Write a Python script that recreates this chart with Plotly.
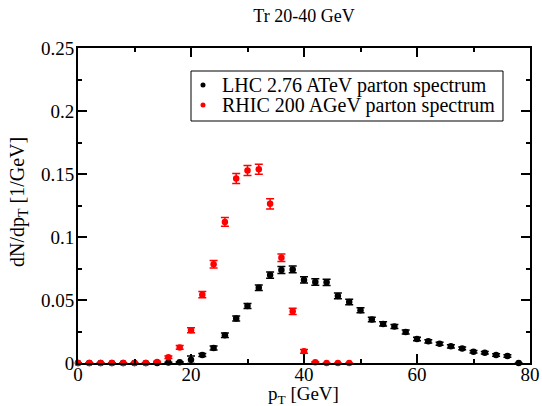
import plotly.graph_objects as go

# transverse momentum bins [GeV]
pt = [0, 2, 4, 6, 8, 10, 12, 14, 16, 18, 20, 22, 24, 26, 28, 30, 32, 34, 36, 38,
      40, 42, 44, 46, 48, 50, 52, 54, 56, 58, 60, 62, 64, 66, 68, 70, 72, 74, 76, 78]

# LHC 2.76 ATeV parton spectrum dN/dpT [1/GeV]
lhc_y = [0, 0, 0, 0, 0, 0, 0, 0, 0.0003, 0.0005, 0.0026, 0.0063, 0.0119, 0.022,
         0.0354, 0.0452, 0.0598, 0.0698, 0.0738, 0.0743, 0.0659, 0.0643, 0.064,
         0.0532, 0.0484, 0.0418, 0.0345, 0.031, 0.029, 0.0246, 0.019, 0.0172,
         0.0153, 0.0132, 0.0116, 0.009, 0.0082, 0.0063, 0.0056, 0.0]
lhc_err = [0, 0, 0, 0, 0, 0, 0, 0, 0.0003, 0.0005, 0.003, 0.0012, 0.0015, 0.0018,
           0.002, 0.002, 0.0022, 0.0025, 0.0027, 0.0027, 0.0025, 0.0025, 0.0025,
           0.0023, 0.0022, 0.002, 0.0018, 0.0017, 0.0016, 0.0015, 0.0014, 0.0013,
           0.0012, 0.0012, 0.0011, 0.001, 0.001, 0.001, 0.001, 0.0]

# RHIC 200 AGeV parton spectrum dN/dpT [1/GeV]
rhic_pt = [0, 2, 4, 6, 8, 10, 12, 14, 16, 18, 20, 22, 24, 26, 28, 30, 32, 34,
           36, 38, 40, 42, 44, 46, 48]
rhic_y = [0, 0, 0, 0, 0, 0, 0, 0.0008, 0.0045, 0.0124, 0.026, 0.0542, 0.0783,
          0.112, 0.1464, 0.1528, 0.1538, 0.1263, 0.0835, 0.041, 0.0093, 0.0005,
          0, 0, 0]
rhic_err = [0, 0, 0, 0, 0, 0, 0, 0.0005, 0.001, 0.0015, 0.002, 0.0025, 0.003,
            0.0035, 0.004, 0.004, 0.004, 0.004, 0.003, 0.0025, 0.0015, 0.0005,
            0, 0, 0]

legend_names = ["LHC 2.76 ATeV parton spectrum", "RHIC 200 AGeV parton spectrum"]
colors = ["#000000", "#ff0000"]

FONT = "Liberation Serif, Times New Roman, serif"

fig = go.Figure()
for xs, ys, es, name, c in [(pt, lhc_y, lhc_err, legend_names[0], colors[0]),
                            (rhic_pt, rhic_y, rhic_err, legend_names[1], colors[1])]:
    fig.add_trace(go.Scatter(
        x=xs, y=ys, mode="markers", name=name,
        marker=dict(symbol="circle", size=6.5, color=c),
        error_y=dict(type="data", array=es, visible=True, color=c,
                     thickness=1.5, width=4),
        cliponaxis=False, showlegend=False,
    ))

# plot-area geometry in pixels
W, H = 542, 406
L, R, T, B = 78, 12, 48, 43
pw, ph = W - L - R, H - T - B


def px(xp):
    return (xp - L) / pw


def py(yp):
    return (H - B - yp) / ph


# legend box drawn by hand
shapes = [dict(type="rect", xref="paper", yref="paper",
               x0=px(191), x1=px(503), y0=py(121), y1=py(71),
               line=dict(color="black", width=1), fillcolor="white", layer="above")]
annotations = []
for i, (name, c) in enumerate(zip(legend_names, colors)):
    yc = 85 + 20 * i
    shapes.append(dict(type="circle", xref="paper", yref="paper",
                       x0=px(200.5), x1=px(205.5), y0=py(yc + 2.5), y1=py(yc - 2.5),
                       fillcolor=c, line=dict(color=c, width=0), layer="above"))
    annotations.append(dict(xref="paper", yref="paper", x=px(220), y=py(yc),
                            xanchor="left", yanchor="middle", showarrow=False,
                            text=name, font=dict(family=FONT, size=20, color="black")))

# axis titles
annotations.append(dict(xref="paper", yref="paper", x=px(303), y=py(395),
                        xanchor="center", yanchor="middle", showarrow=False,
                        borderpad=0,
                        text="p<sub>T</sub> [GeV]",
                        font=dict(family=FONT, size=19, color="black")))
annotations.append(dict(xref="paper", yref="paper", x=px(18), y=py(202),
                        xanchor="center", yanchor="middle", showarrow=False,
                        textangle=-90, text="dN/dp<sub>T</sub> [1/GeV]",
                        font=dict(family=FONT, size=20, color="black")))

axis_common = dict(
    showline=True, linewidth=2, linecolor="black", mirror="allticks",
    ticks="inside", ticklen=9, tickwidth=1.5, tickcolor="black",
    showgrid=False, zeroline=False, automargin=False,
    tickfont=dict(family=FONT, size=19, color="black"),
)

fig.update_layout(
    width=W, height=H,
    margin=dict(l=L, r=R, t=T, b=B),
    paper_bgcolor="white", plot_bgcolor="white",
    font=dict(family=FONT, color="black"),
    title=dict(text="Tr 20-40 GeV", x=304 / W, xanchor="center",
               y=1 - 16 / H, yanchor="middle", xref="container", yref="container",
               font=dict(family=FONT, size=18, color="black")),
    xaxis=dict(range=[0, 80], dtick=20, tick0=0, ticklabelstandoff=-7,
               minor=dict(dtick=10, ticklen=4, tickwidth=1.5, ticks="inside",
                          tickcolor="black"),
               **axis_common),
    yaxis=dict(range=[0, 0.25], dtick=0.05, tick0=0, ticklabelstandoff=-2,
               minor=dict(dtick=0.025, ticklen=4, tickwidth=1.5, ticks="inside",
                          tickcolor="black"),
               **axis_common),
    shapes=shapes,
    annotations=annotations,
    showlegend=False,
)

fig.write_html("out.html")
